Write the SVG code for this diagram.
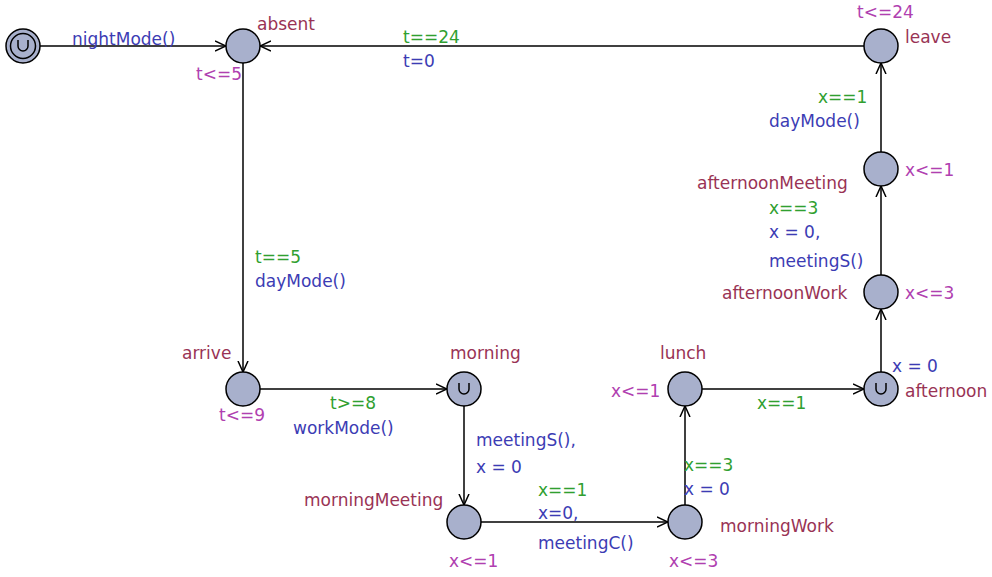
<svg xmlns="http://www.w3.org/2000/svg" width="992" height="577" viewBox="0 0 992 577">
<style>
text{font-family:"DejaVu Sans","Liberation Sans",sans-serif;font-size:17px}
.loc{fill:#a8b0cc;stroke:#000;stroke-width:1.5}
.nm{fill:#993355}
.inv{fill:#b040b0}
.gd{fill:#30a030}
.up{fill:#3c3cb4}
.edge{stroke:#000;stroke-width:1.5;fill:none}
.u{stroke:#000;stroke-width:1.5;fill:none}
</style>
<defs>
<marker id="arr" viewBox="0 0 12 12" refX="11" refY="6" markerWidth="12" markerHeight="12" markerUnits="userSpaceOnUse" orient="auto">
<path d="M0,1 L11,6 L0,11" fill="none" stroke="#000" stroke-width="1.5"/>
</marker>
</defs>
<rect width="992" height="577" fill="#fff"/>
<g id="connectors">
<line class="edge" x1="40" y1="46" x2="226" y2="46" marker-end="url(#arr)"/>
<line class="edge" x1="864" y1="46" x2="260" y2="46" marker-end="url(#arr)"/>
<line class="edge" x1="243" y1="63" x2="243" y2="372" marker-end="url(#arr)"/>
<line class="edge" x1="260" y1="389" x2="447" y2="389" marker-end="url(#arr)"/>
<line class="edge" x1="464" y1="406" x2="464" y2="505" marker-end="url(#arr)"/>
<line class="edge" x1="481" y1="522" x2="668" y2="522" marker-end="url(#arr)"/>
<line class="edge" x1="685" y1="505" x2="685" y2="406" marker-end="url(#arr)"/>
<line class="edge" x1="702" y1="389" x2="864" y2="389" marker-end="url(#arr)"/>
<line class="edge" x1="881" y1="372" x2="881" y2="309" marker-end="url(#arr)"/>
<line class="edge" x1="881" y1="275" x2="881" y2="186" marker-end="url(#arr)"/>
<line class="edge" x1="881" y1="152" x2="881" y2="63" marker-end="url(#arr)"/>
<text class="up" x="72" y="45">nightMode()</text>
<text class="gd" x="403" y="43">t==24</text>
<text class="up" x="403" y="67">t=0</text>
<text class="gd" x="255" y="263">t==5</text>
<text class="up" x="255" y="287">dayMode()</text>
<text class="gd" x="330" y="409">t&gt;=8</text>
<text class="up" x="293" y="434">workMode()</text>
<text class="up" x="476" y="446">meetingS(),</text>
<text class="up" x="476" y="473">x = 0</text>
<text class="gd" x="538" y="496">x==1</text>
<text class="up" x="538" y="519">x=0,</text>
<text class="up" x="538" y="549">meetingC()</text>
<text class="gd" x="684" y="471">x==3</text>
<text class="up" x="684" y="495">x = 0</text>
<text class="gd" x="757" y="409">x==1</text>
<text class="up" x="892" y="372">x = 0</text>
<text class="gd" x="769" y="214">x==3</text>
<text class="up" x="769" y="238">x = 0,</text>
<text class="up" x="769" y="267">meetingS()</text>
<text class="gd" x="818" y="103">x==1</text>
<text class="up" x="769" y="127">dayMode()</text>
</g>
<g id="init">
<circle class="loc" cx="23" cy="46" r="17"/>
<circle cx="23" cy="46" r="12.5" fill="none" stroke="#000" stroke-width="1.5"/>
<path class="u" d="M18,40 V46 A5,5 0 0 0 28,46 V40"/>
</g>
<g id="absent">
<circle class="loc" cx="243" cy="46" r="17"/>
<text class="nm" x="257" y="30">absent</text>
<text class="inv" x="196" y="80">t&lt;=5</text>
</g>
<g id="leave">
<circle class="loc" cx="881" cy="46" r="17"/>
<text class="nm" x="905" y="43">leave</text>
<text class="inv" x="857" y="18">t&lt;=24</text>
</g>
<g id="afternoonMeeting">
<circle class="loc" cx="881" cy="169" r="17"/>
<text class="nm" x="697" y="189">afternoonMeeting</text>
<text class="inv" x="905" y="176">x&lt;=1</text>
</g>
<g id="afternoonWork">
<circle class="loc" cx="881" cy="292" r="17"/>
<text class="nm" x="722" y="299">afternoonWork</text>
<text class="inv" x="905" y="299">x&lt;=3</text>
</g>
<g id="afternoon">
<circle class="loc" cx="881" cy="389" r="17"/>
<path class="u" d="M876,383 V389 A5,5 0 0 0 886,389 V383"/>
<text class="nm" x="905" y="397">afternoon</text>
</g>
<g id="lunch">
<circle class="loc" cx="685" cy="389" r="17"/>
<text class="nm" x="660" y="359">lunch</text>
<text class="inv" x="611" y="397">x&lt;=1</text>
</g>
<g id="morning">
<circle class="loc" cx="464" cy="389" r="17"/>
<path class="u" d="M459,383 V389 A5,5 0 0 0 469,389 V383"/>
<text class="nm" x="450" y="359">morning</text>
</g>
<g id="arrive">
<circle class="loc" cx="243" cy="389" r="17"/>
<text class="nm" x="182" y="359">arrive</text>
<text class="inv" x="219" y="421">t&lt;=9</text>
</g>
<g id="morningMeeting">
<circle class="loc" cx="464" cy="522" r="17"/>
<text class="nm" x="304" y="506">morningMeeting</text>
<text class="inv" x="449" y="567">x&lt;=1</text>
</g>
<g id="morningWork">
<circle class="loc" cx="685" cy="522" r="17"/>
<text class="nm" x="720" y="532">morningWork</text>
<text class="inv" x="669" y="567">x&lt;=3</text>
</g>
</svg>
